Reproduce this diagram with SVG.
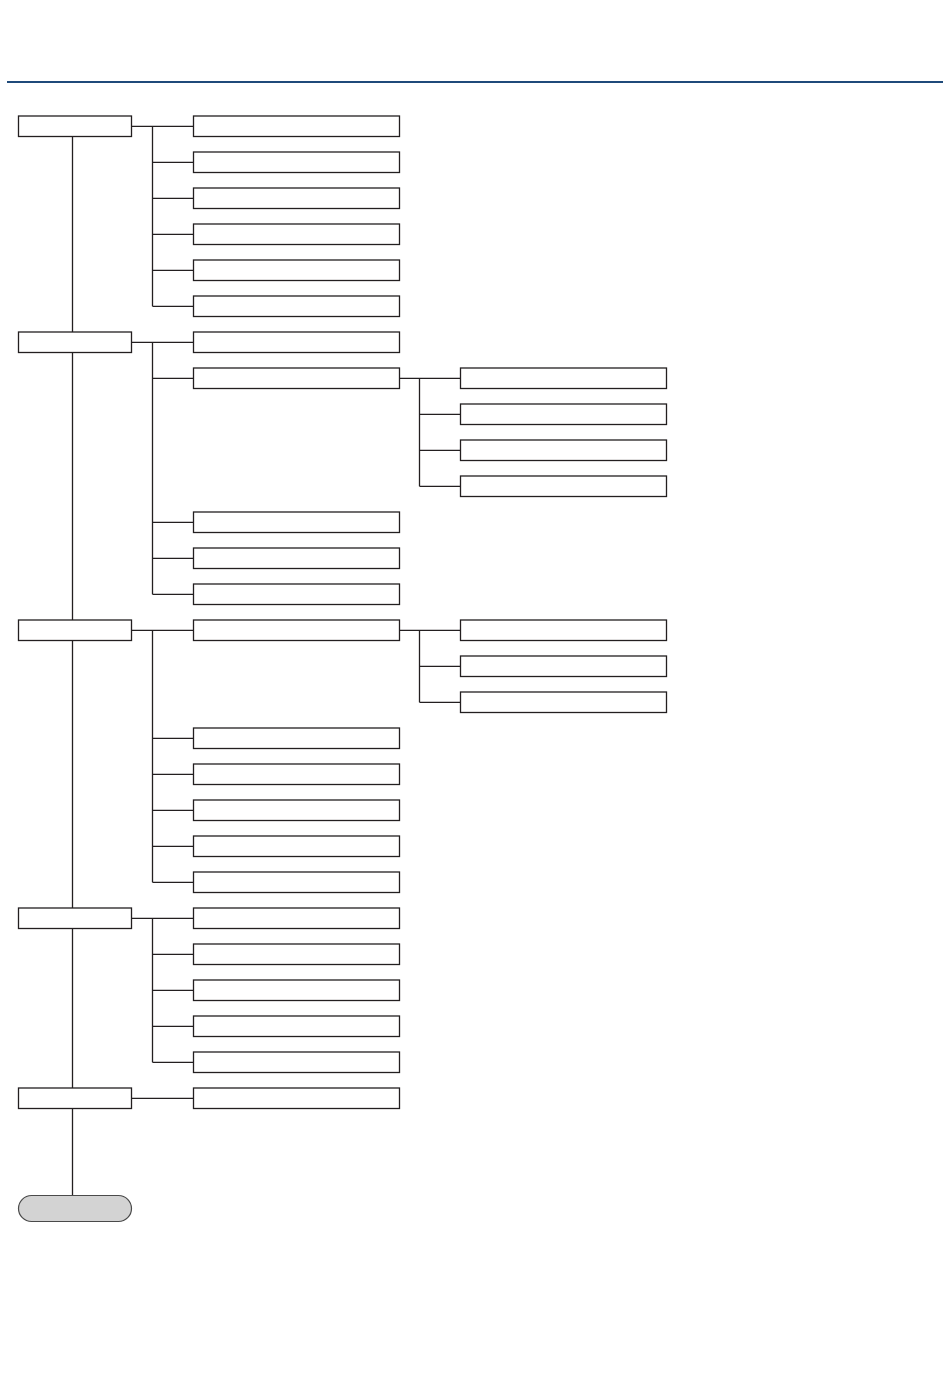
<svg xmlns="http://www.w3.org/2000/svg" width="950" height="1397" viewBox="0 0 950 1397">
<style>
.b{fill:#fff;stroke:#231f20;stroke-width:1.3}
.c line{stroke:#231f20;stroke-width:1.3}
.t{fill:#d3d3d3;stroke:#4a4a4a;stroke-width:1.2}
</style>
<rect width="950" height="1397" fill="#fff"/>
<line x1="7" y1="82" x2="943" y2="82" stroke="#1f4a7a" stroke-width="2"/>
<g id="connectors" class="c">
<line x1="72.5" y1="136.5" x2="72.5" y2="1195.5"/>
<line x1="131.5" y1="126.3" x2="193.5" y2="126.3"/>
<line x1="152.5" y1="126.3" x2="152.5" y2="306.3"/>
<line x1="152.5" y1="162.3" x2="193.5" y2="162.3"/>
<line x1="152.5" y1="198.3" x2="193.5" y2="198.3"/>
<line x1="152.5" y1="234.3" x2="193.5" y2="234.3"/>
<line x1="152.5" y1="270.3" x2="193.5" y2="270.3"/>
<line x1="152.5" y1="306.3" x2="193.5" y2="306.3"/>
<line x1="131.5" y1="342.3" x2="193.5" y2="342.3"/>
<line x1="152.5" y1="342.3" x2="152.5" y2="594.3"/>
<line x1="152.5" y1="378.3" x2="193.5" y2="378.3"/>
<line x1="152.5" y1="522.3" x2="193.5" y2="522.3"/>
<line x1="152.5" y1="558.3" x2="193.5" y2="558.3"/>
<line x1="152.5" y1="594.3" x2="193.5" y2="594.3"/>
<line x1="399.5" y1="378.3" x2="460.5" y2="378.3"/>
<line x1="419.5" y1="378.3" x2="419.5" y2="486.3"/>
<line x1="419.5" y1="414.3" x2="460.5" y2="414.3"/>
<line x1="419.5" y1="450.3" x2="460.5" y2="450.3"/>
<line x1="419.5" y1="486.3" x2="460.5" y2="486.3"/>
<line x1="131.5" y1="630.3" x2="193.5" y2="630.3"/>
<line x1="152.5" y1="630.3" x2="152.5" y2="882.3"/>
<line x1="152.5" y1="738.3" x2="193.5" y2="738.3"/>
<line x1="152.5" y1="774.3" x2="193.5" y2="774.3"/>
<line x1="152.5" y1="810.3" x2="193.5" y2="810.3"/>
<line x1="152.5" y1="846.3" x2="193.5" y2="846.3"/>
<line x1="152.5" y1="882.3" x2="193.5" y2="882.3"/>
<line x1="399.5" y1="630.3" x2="460.5" y2="630.3"/>
<line x1="419.5" y1="630.3" x2="419.5" y2="702.3"/>
<line x1="419.5" y1="666.3" x2="460.5" y2="666.3"/>
<line x1="419.5" y1="702.3" x2="460.5" y2="702.3"/>
<line x1="131.5" y1="918.3" x2="193.5" y2="918.3"/>
<line x1="152.5" y1="918.3" x2="152.5" y2="1062.3"/>
<line x1="152.5" y1="954.3" x2="193.5" y2="954.3"/>
<line x1="152.5" y1="990.3" x2="193.5" y2="990.3"/>
<line x1="152.5" y1="1026.3" x2="193.5" y2="1026.3"/>
<line x1="152.5" y1="1062.3" x2="193.5" y2="1062.3"/>
<line x1="131.5" y1="1098.3" x2="193.5" y2="1098.3"/>
</g>
<g id="L1"><rect class="b" x="18.5" y="116" width="113" height="20.5"/></g>
<g id="L2"><rect class="b" x="18.5" y="332" width="113" height="20.5"/></g>
<g id="L3"><rect class="b" x="18.5" y="620" width="113" height="20.5"/></g>
<g id="L4"><rect class="b" x="18.5" y="908" width="113" height="20.5"/></g>
<g id="L5"><rect class="b" x="18.5" y="1088" width="113" height="20.5"/></g>
<g id="END"><rect class="t" x="18.5" y="1195.5" width="113" height="26" rx="13"/></g>
<g id="M1"><rect class="b" x="193.5" y="116" width="206" height="20.5"/></g>
<g id="M2"><rect class="b" x="193.5" y="152" width="206" height="20.5"/></g>
<g id="M3"><rect class="b" x="193.5" y="188" width="206" height="20.5"/></g>
<g id="M4"><rect class="b" x="193.5" y="224" width="206" height="20.5"/></g>
<g id="M5"><rect class="b" x="193.5" y="260" width="206" height="20.5"/></g>
<g id="M6"><rect class="b" x="193.5" y="296" width="206" height="20.5"/></g>
<g id="M7"><rect class="b" x="193.5" y="332" width="206" height="20.5"/></g>
<g id="M8"><rect class="b" x="193.5" y="368" width="206" height="20.5"/></g>
<g id="M9"><rect class="b" x="193.5" y="512" width="206" height="20.5"/></g>
<g id="M10"><rect class="b" x="193.5" y="548" width="206" height="20.5"/></g>
<g id="M11"><rect class="b" x="193.5" y="584" width="206" height="20.5"/></g>
<g id="M12"><rect class="b" x="193.5" y="620" width="206" height="20.5"/></g>
<g id="M13"><rect class="b" x="193.5" y="728" width="206" height="20.5"/></g>
<g id="M14"><rect class="b" x="193.5" y="764" width="206" height="20.5"/></g>
<g id="M15"><rect class="b" x="193.5" y="800" width="206" height="20.5"/></g>
<g id="M16"><rect class="b" x="193.5" y="836" width="206" height="20.5"/></g>
<g id="M17"><rect class="b" x="193.5" y="872" width="206" height="20.5"/></g>
<g id="M18"><rect class="b" x="193.5" y="908" width="206" height="20.5"/></g>
<g id="M19"><rect class="b" x="193.5" y="944" width="206" height="20.5"/></g>
<g id="M20"><rect class="b" x="193.5" y="980" width="206" height="20.5"/></g>
<g id="M21"><rect class="b" x="193.5" y="1016" width="206" height="20.5"/></g>
<g id="M22"><rect class="b" x="193.5" y="1052" width="206" height="20.5"/></g>
<g id="M23"><rect class="b" x="193.5" y="1088" width="206" height="20.5"/></g>
<g id="S1"><rect class="b" x="460.5" y="368" width="206" height="20.5"/></g>
<g id="S2"><rect class="b" x="460.5" y="404" width="206" height="20.5"/></g>
<g id="S3"><rect class="b" x="460.5" y="440" width="206" height="20.5"/></g>
<g id="S4"><rect class="b" x="460.5" y="476" width="206" height="20.5"/></g>
<g id="S5"><rect class="b" x="460.5" y="620" width="206" height="20.5"/></g>
<g id="S6"><rect class="b" x="460.5" y="656" width="206" height="20.5"/></g>
<g id="S7"><rect class="b" x="460.5" y="692" width="206" height="20.5"/></g>
</svg>
